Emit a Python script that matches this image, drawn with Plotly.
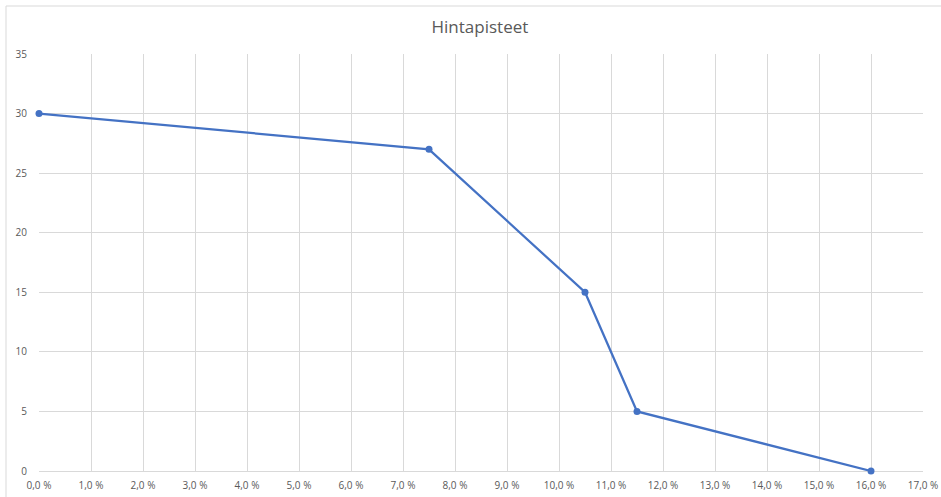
import plotly.graph_objects as go

x_pct = [0.0, 7.5, 10.5, 11.5, 16.0]
points = [30, 27, 15, 5, 0]
x_ticks = list(range(0, 18))
x_tick_labels = [f"{v},0 %" for v in x_ticks]
y_ticks = [0, 5, 10, 15, 20, 25, 30, 35]

fig = go.Figure()
fig.add_trace(go.Scatter(
    x=x_pct, y=points, mode="lines+markers",
    line=dict(color="#4472C4", width=2.25),
    marker=dict(color="#4472C4", size=7),
    showlegend=False, cliponaxis=False,
))

font_family = "Open Sans, Liberation Sans, sans-serif"
fig.update_layout(
    width=941, height=497,
    margin=dict(l=39, r=18, t=54, b=26, autoexpand=False),
    paper_bgcolor="white", plot_bgcolor="white",
    title=dict(text="Hintapisteet", x=0.51, xanchor="center", y=0.945, yanchor="middle",
               font=dict(family=font_family, size=17, color="#595959")),
    xaxis=dict(range=[0, 17], tickvals=x_ticks, ticktext=x_tick_labels,
               showgrid=True, gridcolor="#D9D9D9", gridwidth=1,
               zeroline=False, showline=True, linecolor="#D9D9D9", layer="below traces",
               ticks="outside", ticklen=5, tickcolor="rgba(0,0,0,0)",
               tickfont=dict(family=font_family, size=10, color="#595959")),
    yaxis=dict(range=[0, 35], tickvals=y_ticks,
               showgrid=True, gridcolor="#D9D9D9", gridwidth=1,
               zeroline=False, showline=False, layer="below traces",
               ticks="outside", ticklen=9, tickcolor="rgba(0,0,0,0)",
               tickfont=dict(family=font_family, size=10, color="#595959")),
    shapes=[
        dict(type="line", xref="paper", yref="paper", x0=-33/884, x1=1 + 18/884,
             y0=1 + 48/417, y1=1 + 48/417, line=dict(color="#D9D9D9", width=1)),
        dict(type="line", xref="paper", yref="paper", x0=-33/884, x1=-33/884,
             y0=1 + 48/417, y1=-26/417, line=dict(color="#D9D9D9", width=1)),
    ],
)
fig.write_html("out.html", config={"displayModeBar": False},
               post_script="document.body.style.margin='0';document.body.style.overflow='hidden';")
